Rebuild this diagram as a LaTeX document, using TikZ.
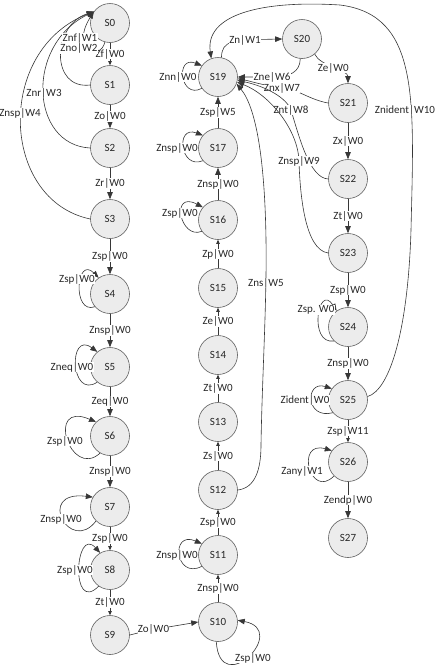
\documentclass[tikz,border=0pt]{standalone}
\usepackage{fontspec}
\setmainfont{Carlito}
\usetikzlibrary{arrows.meta}
\definecolor{linec}{RGB}{55,55,55}
\definecolor{nodefill}{RGB}{236,236,236}
\definecolor{nodeline}{RGB}{95,95,95}
\definecolor{txt}{RGB}{40,40,40}
\begin{document}
\begin{tikzpicture}[x=1pt,y=-1pt,
  st/.style={circle, draw=nodeline, line width=0.6pt, fill=nodefill, minimum size=39pt, inner sep=0pt, font=\fontsize{11}{13}\selectfont, text=txt},
  lbl/.style={fill=white, inner sep=0.3pt, font=\fontsize{11}{13}\selectfont, text=txt},
  con/.style={draw=linec, line width=0.6pt},
  big/.style={con, -{Triangle[length=7pt,width=5.5pt]}},
  sml/.style={con, -{Triangle[length=4pt,width=3.5pt]}}]
\useasboundingbox (0,0) rectangle (437,667);
% states
\node[st] (s0) at (110,23) {S0};
\node[st] (s1) at (110,85) {S1};
\node[st] (s2) at (110,148) {S2};
\node[st] (s3) at (110,219) {S3};
\node[st] (s4) at (110,294) {S4};
\node[st] (s5) at (110,367) {S5};
\node[st] (s6) at (110,436) {S6};
\node[st] (s7) at (110,507) {S7};
\node[st] (s8) at (110,570) {S8};
\node[st] (s9) at (110,635) {S9};
\node[st] (s10) at (218,622) {S10};
\node[st] (s11) at (218,555) {S11};
\node[st] (s12) at (218,490) {S12};
\node[st] (s13) at (218,422) {S13};
\node[st] (s14) at (218,355) {S14};
\node[st] (s15) at (218,288) {S15};
\node[st] (s16) at (218,220) {S16};
\node[st] (s17) at (218,148) {S17};
\node[st] (s19) at (218,77) {S19};
\node[st] (s20) at (302,39) {S20};
\node[st] (s21) at (348,103) {S21};
\node[st] (s22) at (348,179) {S22};
\node[st] (s23) at (348,253) {S23};
\node[st] (s24) at (348,327) {S24};
\node[st] (s25) at (348,400) {S25};
\node[st] (s26) at (348,462) {S26};
\node[st] (s27) at (348,538) {S27};
% left column
\draw[sml] (s0) -- node[lbl]{Zf|W0} (s1);
\draw[big] (s1) -- node[lbl]{Zo|W0} (s2);
\draw[big] (s2) -- node[lbl]{Zr|W0} (s3);
\draw[big] (s3) -- node[lbl]{Zsp|W0} (s4);
\draw[big] (s4) -- node[lbl]{Znsp|W0} (s5);
\draw[big] (s5) -- node[lbl]{Zeq|W0} (s6);
\draw[big] (s6) -- node[lbl]{Znsp|W0} (s7);
\draw[sml] (s7) -- node[lbl]{Zsp|W0} (s8);
\draw[sml] (s8) -- node[lbl]{Zt|W0} (s9);
% back to S0
\draw[big] (s0.255) .. controls (100,62) and (70,50) .. (s0.145);
\draw[big] (s1.180) .. controls (50,90) and (52,25) .. (s0.145);
\draw[big] (s2.180) .. controls (30,145) and (25,45) .. (s0.145);
\draw[big] (s3.180) .. controls (0,200) and (-5,50) .. (s0.145);
\node[lbl] (lznf) at (80,38) {Znf|W1};
\node[lbl] (lzno) at (79,48.5) {Zno|W2};
\node[lbl] (lznr) at (44,93) {Znr|W3};
\node[lbl] (lznsp4) at (20,113) {Znsp|W4};
% left loops
\draw[big] (s4.220) .. controls (72,315) and (76,255) .. (s4.125);
\node[lbl] (l4) at (77,279) {Zsp|W0};
\draw[big] (s5.230) .. controls (70,400) and (68,330) .. (s5.130);
\node[lbl] (l5) at (72,367) {Zneq|W0};
\draw[big] (s6.240) .. controls (70,480) and (45,400) .. (s6.135);
\node[lbl] (l6) at (65,441) {Zsp|W0};
\draw[big] (s7.225) .. controls (70,555) and (35,490) .. (s7.150);
\node[lbl] (l7) at (61,519) {Znsp|W0};
\draw[big] (s8.235) .. controls (70,615) and (75,525) .. (s8.120);
\node[lbl] (l8) at (75,570) {Zsp|W0};
% S9 -> S10
\draw[big] (s9.east) .. controls (150,630) .. (s10.west) node[lbl,pos=0.5]{Zo|W0};
\draw[big] (s10.265) .. controls (220,700) and (290,630) .. (s10.5);
\node[lbl] (l10) at (253,658) {Zsp|W0};
% middle column
\draw[sml] (s10) -- node[lbl]{Znsp|W0} (s11);
\draw[sml] (s11) -- node[lbl]{Zsp|W0} (s12);
\draw[sml] (s12) -- node[lbl]{Zs|W0} (s13);
\draw[sml] (s13) -- node[lbl]{Zt|W0} (s14);
\draw[sml] (s14) -- node[lbl]{Ze|W0} (s15);
\draw[sml] (s15) -- node[lbl]{Zp|W0} (s16);
\draw[big] (s16) -- node[lbl]{Znsp|W0} (s17);
\draw[big] (s17) -- node[lbl]{Zsp|W5} (s19);
\draw[big] (s11.215) .. controls (175,580) and (170,530) .. (s11.145);
\node[lbl] (l11) at (177,555) {Znsp|W0};
\draw[big] (s16.215) .. controls (180,240) and (170,190) .. (s16.140);
\node[lbl] (l16) at (180,213) {Zsp|W0};
\draw[big] (s17.220) .. controls (180,170) and (175,125) .. (s17.140);
\node[lbl] (l17) at (177,148) {Znsp|W0};
\draw[big] (s19.215) .. controls (180,100) and (175,55) .. (s19.145);
\node[lbl] (l19) at (178,77) {Znn|W0};
% S12 -> S19
\draw[big] (s12.east) .. controls (255,488) and (261,470) .. (261,445) .. controls (262,380) and (267,300) .. (266,240) .. controls (265,170) and (258,110) .. (s19.-20);
\node[lbl] (lzns) at (266,283) {Zns|W5};
% S19 <-> S20 and right side back edges
\draw[big] (s19.80) .. controls (222,40) and (232,40) .. (s20.west);
\node[lbl] (lzn) at (245,40) {Zn|W1};
\draw[big] (s20.265) .. controls (300,72) and (290,77) .. (272,77) -- (s19.east);
\node[lbl] (lzne) at (272,77) {Zne|W6};
\draw[big] (s21.west) .. controls (310,100) and (295,88) .. (282,87.5) .. controls (265,86) and (250,81) .. (s19.-5);
\node[lbl] (lznx) at (282,88) {Znx|W7};
\draw[big] (s22.west) .. controls (310,178) and (300,140) .. (291,110) .. controls (285,95) and (260,85) .. (s19.-10);
\node[lbl] (lznt) at (291,110) {Znt|W8};
\draw[big] (s23.west) .. controls (305,250) and (300,195) .. (299,161) .. controls (298,130) and (270,95) .. (s19.-15);
\node[lbl] (lznsp9) at (299,161) {Znsp|W9};
\draw[big] (s20.-50) .. controls (320,66) and (348,70) .. (s21.north) node[lbl,pos=0.5]{Ze|W0};
% right column
\draw[big] (s21) -- node[lbl]{Zx|W0} (s22);
\draw[big] (s22) -- node[lbl]{Zt|W0} (s23);
\draw[big] (s23) -- node[lbl]{Zsp|W0} (s24);
\draw[big] (s24) -- node[lbl]{Znsp|W0} (s25);
\draw[sml] (s25) -- node[lbl]{Zsp|W11} (s26);
\draw[big] (s26) -- node[lbl]{Zendp|W0} (s27);
\draw[big] (s24.225) .. controls (308,345) and (318,282) .. (s24.125);
\node[lbl] (l24) at (316,310) {Zsp. W0};
\draw[big] (s25.220) .. controls (305,420) and (305,380) .. (s25.145);
\node[lbl] (l25) at (305,400) {Zident|W0};
\draw[big] (s26.225) .. controls (310,500) and (295,440) .. (s26.145);
\node[lbl] (l26) at (302,471) {Zany|W1};
% S25 -> S19
\draw[big] (s25.10) .. controls (390,390) and (408,330) .. (411,230) .. controls (414,100) and (420,15) .. (340,5) .. controls (260,0) and (205,15) .. (s19.110);
\node[lbl] (lznident) at (405,110) {Znident|W10};
\end{tikzpicture}
\end{document}
